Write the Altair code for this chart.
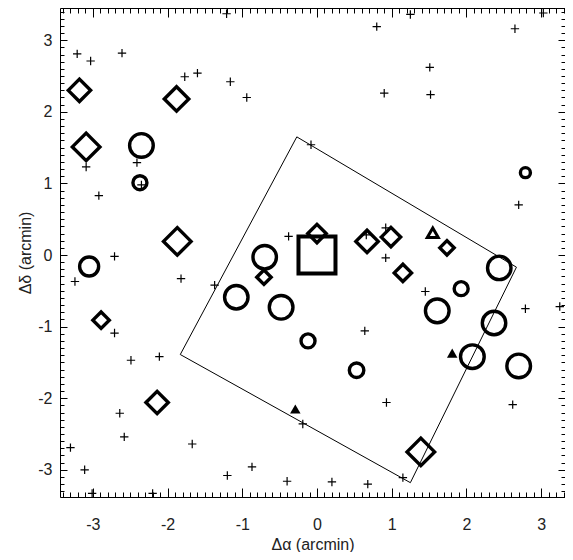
import altair as alt
import pandas as pd

# small plus signs
plus_x = [-3.21, -3.03, -2.61, -1.77, -1.60, -1.21, -1.16, -0.94, -3.09, -2.41,
          -2.35, -2.92, -2.71, -0.38, -1.82, -3.24, -1.37, 1.25, 0.80, 2.65,
          3.03, 1.51, 0.90, 1.52, -0.08, 2.70, 0.66, 0.92, 0.92, -2.71,
          -2.49, -2.11, -2.64, -2.58, -3.30, -3.11, -3.01, -2.20, -1.67, -1.20,
          -0.87, -0.40, 1.45, 2.79, 3.25, 0.64, 0.93, 2.62, -0.19, 0.20,
          0.68, 1.15]
plus_y = [2.81, 2.71, 2.82, 2.49, 2.54, 3.37, 2.42, 2.20, 1.23, 1.29,
          0.98, 0.83, -0.02, 0.26, -0.33, -0.37, -0.42, 3.36, 3.19, 3.16,
          3.38, 2.62, 2.26, 2.24, 1.54, 0.70, 0.28, 0.38, -0.04, -1.09,
          -1.47, -1.42, -2.21, -2.54, -2.69, -3.00, -3.33, -3.33, -2.64, -3.08,
          -2.96, -3.16, -0.51, -0.75, -0.72, -1.06, -2.06, -2.09, -2.36, -3.17,
          -3.20, -3.11]

# open circles
circ_x = [-2.35, -2.37, -3.05, -0.70, -1.08, -0.48, -0.12, 0.53, 1.93, 1.61,
          2.37, 2.08, 2.70, 2.44, 2.79]
circ_y = [1.53, 1.01, -0.16, -0.03, -0.59, -0.73, -1.20, -1.61, -0.47, -0.78,
          -0.95, -1.42, -1.55, -0.18, 1.15]
circ_s = [560, 196, 361, 550, 550, 560, 196, 210, 196, 560,
          550, 560, 560, 550, 100]

# open diamonds
diam_x = [-3.18, -1.88, -3.09, -1.87, 0.00, 0.67, 0.99, 1.74, 1.15, -0.71,
          -2.89, -2.14, 1.39]
diam_y = [2.30, 2.18, 1.51, 0.19, 0.30, 0.19, 0.25, 0.10, -0.25, -0.31,
          -0.91, -2.06, -2.75]
diam_s = [500, 600, 760, 760, 340, 500, 376, 207, 300, 207,
          270, 500, 760]

tri_open_x = [1.55]
tri_open_y = [0.31]
tri_fill_x = [1.81, -0.29]
tri_fill_y = [-1.37, -2.15]

sq_x = [0.0]
sq_y = [0.0]

# field outline
box_x = [-0.27, 2.67, 1.25, -1.83, -0.27]
box_y = [1.65, -0.17, -3.18, -1.39, 1.65]

x_dom = [-3.44, 3.32]
y_dom = [-3.38, 3.45]
x_major = [-3, -2, -1, 0, 1, 2, 3]
y_major = [-3, -2, -1, 0, 1, 2, 3]
x_minor = [i / 10 for i in range(-34, 34) if i % 10]
y_minor = [i / 10 for i in range(-33, 35) if i % 10]

FONT = "Liberation Sans"
xs = alt.Scale(domain=x_dom, nice=False, zero=False)
ys = alt.Scale(domain=y_dom, nice=False, zero=False)


def eje(orient, vals, size, labels=False, title=None, pad=0):
    kw = dict(
        orient=orient, values=vals, tickSize=size, offset=-size,
        domain=False, grid=False, labels=labels, title=title,
        tickColor="black", tickWidth=1,
    )
    if labels:
        kw.update(labelFont=FONT, labelFontSize=16, labelColor="#222",
                  labelPadding=pad, labelExpr="'' + datum.value",
                  titleFont=FONT, titleFontSize=16, titleColor="#222",
                  titleFontWeight="normal")
    return alt.Axis(**kw)


def capa(df, mark, ax_x=None, ax_y=None):
    return alt.Chart(df).mark_point(**mark).encode(
        x=alt.X("x:Q", scale=xs, axis=ax_x),
        y=alt.Y("y:Q", scale=ys, axis=ax_y),
    )


caja = alt.Chart(pd.DataFrame({"x": box_x, "y": box_y, "i": range(len(box_x))})).mark_line(
    color="black", strokeWidth=1
).encode(
    x=alt.X("x:Q", scale=xs,
            axis=eje("bottom", x_major, 9, True, "Δα (arcmin)", 19)),
    y=alt.Y("y:Q", scale=ys,
            axis=eje("left", y_major, 7, True, "Δδ (arcmin)", 8)),
    order="i:Q",
)

cruces = capa(
    pd.DataFrame({"x": plus_x, "y": plus_y}),
    dict(shape="M-1,0L1,0M0,-1L0,1", size=70, strokeWidth=1.2,
         color="black", filled=False, opacity=1),
    eje("bottom", x_minor, 5), eje("left", y_minor, 4),
)

circulos = alt.Chart(pd.DataFrame({"x": circ_x, "y": circ_y, "s": circ_s})).mark_point(
    shape="circle", filled=False, strokeWidth=3.4, color="black", opacity=1
).encode(
    x=alt.X("x:Q", scale=xs, axis=eje("top", x_major, 9)),
    y=alt.Y("y:Q", scale=ys, axis=eje("right", y_major, 7)),
    size=alt.Size("s:Q", scale=None),
)

diamantes = alt.Chart(pd.DataFrame({"x": diam_x, "y": diam_y, "s": diam_s})).mark_point(
    shape="diamond", filled=False, strokeWidth=3.4, color="black", opacity=1
).encode(
    x=alt.X("x:Q", scale=xs, axis=eje("top", x_minor, 5)),
    y=alt.Y("y:Q", scale=ys, axis=eje("right", y_minor, 4)),
    size=alt.Size("s:Q", scale=None),
)

tri_abierto = capa(
    pd.DataFrame({"x": tri_open_x, "y": tri_open_y}),
    dict(shape="triangle-up", size=120, strokeWidth=3, color="black",
         filled=False, opacity=1),
)
tri_lleno = capa(
    pd.DataFrame({"x": tri_fill_x, "y": tri_fill_y}),
    dict(shape="triangle-up", size=110, color="black", filled=True, opacity=1),
)
cuadrado = capa(
    pd.DataFrame({"x": sq_x, "y": sq_y}),
    dict(shape="square", size=1369, strokeWidth=4, color="black",
         filled=False, opacity=1),
)

chart = (
    alt.layer(caja, cruces, circulos, diamantes, tri_abierto, tri_lleno, cuadrado)
    .resolve_axis(x="independent", y="independent")
    .properties(
        width=505, height=489,
        autosize=alt.AutoSizeParams(type="none"),
        padding={"left": 52, "top": 0, "right": 0, "bottom": 55},
    )
    .configure_view(stroke="black", strokeWidth=1)
)

chart.save("out.html", embed_options={"renderer": "svg", "actions": False})
